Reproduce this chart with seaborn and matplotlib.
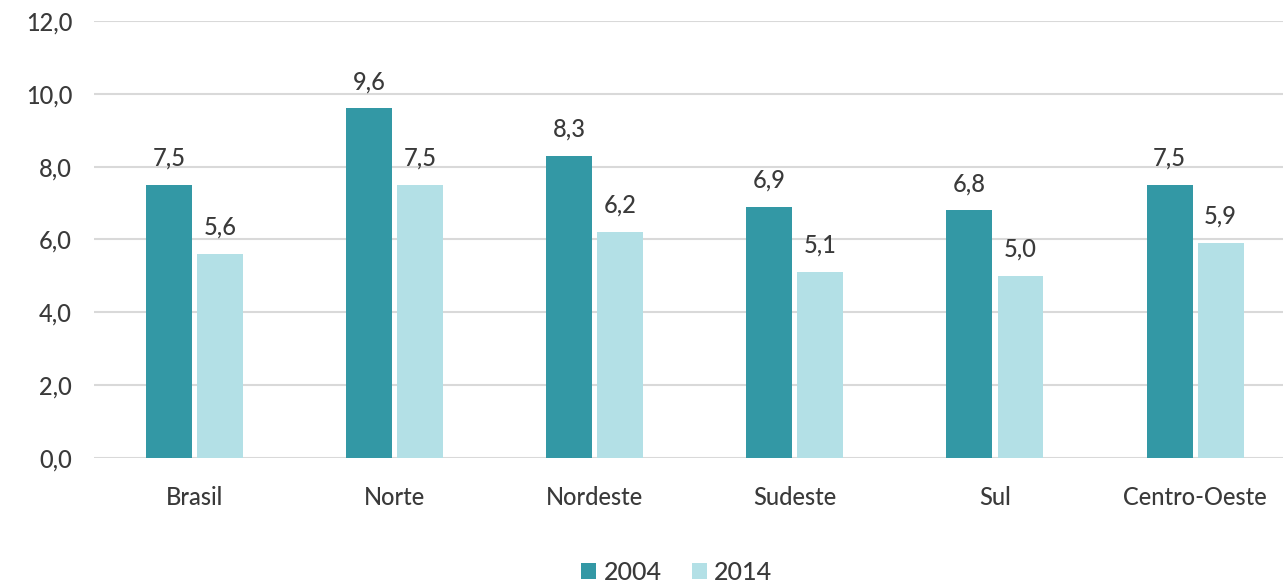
import pandas as pd
import matplotlib.pyplot as plt
import seaborn as sns
from matplotlib.ticker import FuncFormatter

# dados
regioes = ['Brasil', 'Norte', 'Nordeste', 'Sudeste', 'Sul', 'Centro-Oeste']
anos = ['2004', '2014']
valores_2004 = [7.5, 9.6, 8.3, 6.9, 6.8, 7.5]
valores_2014 = [5.6, 7.5, 6.2, 5.1, 5.0, 5.9]

df = pd.DataFrame({
    'regiao': regioes * 2,
    'ano': [anos[0]] * len(regioes) + [anos[1]] * len(regioes),
    'valor': valores_2004 + valores_2014,
})

sns.set_style('white')
plt.rcParams['font.family'] = ['Lato', 'DejaVu Sans']
texto = '#3a3a3a'

fig = plt.figure(figsize=(12.83, 5.83), dpi=100)
ax = fig.add_axes([0.0735, 0.2144, 0.936, 0.7496])

sns.barplot(data=df, x='regiao', y='valor', hue='ano', order=regioes,
            hue_order=anos, palette=['#3398A5', '#B3E0E6'],
            width=0.51, gap=0.1, ax=ax, saturation=1, legend=True,
            linewidth=0)

ax.set_ylim(0, 12)
ax.set_xlim(-0.5, 5.5)
ax.set_yticks(range(0, 13, 2))
ax.yaxis.set_major_formatter(FuncFormatter(lambda v, p: f'{v:.1f}'.replace('.', ',')))
ax.grid(axis='y', color='#D9D9D9', linewidth=1.5)
ax.set_axisbelow(True)
sns.despine(ax=ax, left=True, right=True, top=True, bottom=True)
ax.tick_params(axis='both', length=0, labelsize=17, colors=texto)
for lbl in ax.get_xticklabels() + ax.get_yticklabels():
    lbl.set_fontweight('medium')
ax.tick_params(axis='y', pad=16)
ax.tick_params(axis='x', pad=20)
ax.set_xlabel('')
ax.set_ylabel('')

# rótulos dos valores
for cont in ax.containers:
    ax.bar_label(cont, labels=[f'{b.get_height():.1f}'.replace('.', ',') for b in cont],
                 padding=11, fontsize=17, color=texto, fontweight='medium')

ax.legend(loc='lower center', bbox_to_anchor=(0.485, -0.34), ncol=2, frameon=False,
          prop={'size': 18, 'weight': 'medium'}, handlelength=0.6, handleheight=0.6,
          handletextpad=0.3, columnspacing=1.2, labelcolor=texto)

plt.savefig('out.png', dpi=100)
